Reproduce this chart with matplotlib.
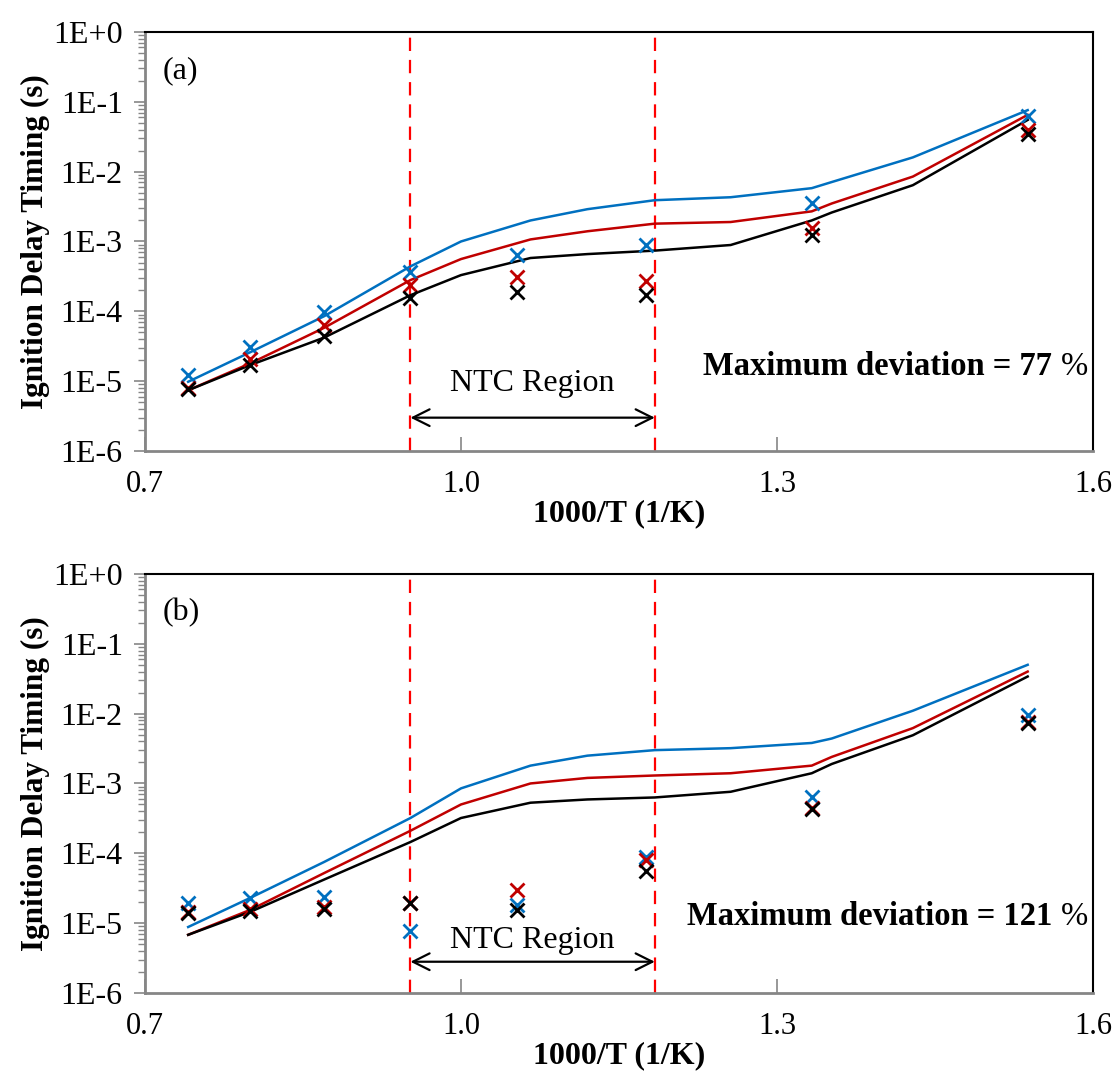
import numpy as np
import matplotlib.pyplot as plt
from matplotlib.ticker import FixedLocator, LogLocator, NullFormatter, FuncFormatter

plt.rcParams['font.family'] = ['Liberation Serif', 'DejaVu Serif']

# experiment points (1000/T)
x_exp = [0.741, 0.800, 0.870, 0.952, 1.053, 1.176, 1.333, 1.538]

# panel (a) measured values
a_blue_pts = [1.23e-5, 3.1e-5, 9.8e-5, 3.6e-4, 6.4e-4, 8.9e-4, 3.5e-3, 6.3e-2]
a_red_pts = [8.0e-6, 2.1e-5, 6.3e-5, 2.4e-4, 3.1e-4, 2.7e-4, 1.55e-3, 4.0e-2]
a_black_pts = [7.7e-6, 1.7e-5, 4.5e-5, 1.55e-4, 1.9e-4, 1.7e-4, 1.24e-3, 3.5e-2]

# panel (b) measured values
b_blue_pts = [1.95e-5, 2.3e-5, 2.4e-5, 7.7e-6, 1.8e-5, 8.9e-5, 6.3e-4, 9.5e-3]
b_red_pts = [1.45e-5, 1.6e-5, 1.7e-5, 1.95e-5, 3.0e-5, 8.0e-5, 4.5e-4, 7.6e-3]
b_black_pts = [1.4e-5, 1.5e-5, 1.6e-5, 1.95e-5, 1.55e-5, 5.6e-5, 4.3e-4, 7.4e-3]

# model curves
x_mod = [0.741, 0.800, 0.870, 0.952, 1.000, 1.066, 1.120, 1.184, 1.256, 1.333, 1.352, 1.429, 1.538]
a_blue_line = [9.8e-6, 2.6e-5, 8.5e-5, 4.4e-4, 1.0e-3, 2.0e-3, 2.9e-3, 3.9e-3, 4.3e-3, 5.8e-3, 7.1e-3, 1.6e-2, 7.6e-2]
a_red_line = [7.4e-6, 1.8e-5, 5.8e-5, 2.8e-4, 5.6e-4, 1.07e-3, 1.4e-3, 1.8e-3, 1.9e-3, 2.7e-3, 3.5e-3, 8.5e-3, 6.5e-2]
a_black_line = [7.4e-6, 1.7e-5, 4.2e-5, 1.7e-4, 3.3e-4, 5.8e-4, 6.6e-4, 7.4e-4, 8.9e-4, 2.0e-3, 2.6e-3, 6.4e-3, 5.5e-2]

b_blue_line = [8.8e-6, 2.3e-5, 7.5e-5, 3.2e-4, 8.5e-4, 1.8e-3, 2.5e-3, 3.0e-3, 3.2e-3, 3.8e-3, 4.4e-3, 1.1e-2, 5.0e-2]
b_red_line = [6.8e-6, 1.55e-5, 5.2e-5, 2.1e-4, 5.0e-4, 1.0e-3, 1.2e-3, 1.3e-3, 1.4e-3, 1.8e-3, 2.4e-3, 6.2e-3, 4.0e-2]
b_black_line = [6.8e-6, 1.45e-5, 4.2e-5, 1.45e-4, 3.2e-4, 5.3e-4, 5.9e-4, 6.3e-4, 7.6e-4, 1.4e-3, 1.9e-3, 4.9e-3, 3.4e-2]

ntc_bounds = [0.952, 1.184]
x_ticks = [0.7, 1.0, 1.3, 1.6]
y_ticks = [1e-6, 1e-5, 1e-4, 1e-3, 1e-2, 1e-1, 1e0]
y_labels = ['1E-6', '1E-5', '1E-4', '1E-3', '1E-2', '1E-1', '1E+0']

BLUE, RED, BLACK = '#0070C0', '#C00000', '#000000'


def draw_panel(ax, lines, pts, tag, dev, dev_y, ntc_y, txt_y):
    for ys, c in zip(lines, [BLUE, RED, BLACK]):
        ax.plot(x_mod, ys, color=c, lw=1.8, zorder=3)
    for ys, c in zip(pts, [BLUE, RED, BLACK]):
        ax.plot(x_exp, ys, 'x', color=c, ms=10, mew=2.0, zorder=4)
    for xv in ntc_bounds:
        ax.axvline(xv, color='#FF0000', lw=1.6, ls=(0, (6, 4)), zorder=2)
    ax.annotate('', xy=(ntc_bounds[0], ntc_y), xytext=(ntc_bounds[1], ntc_y),
                arrowprops=dict(arrowstyle='<->', color='black', lw=1.6,
                                mutation_scale=30, shrinkA=0, shrinkB=0))
    ax.text(sum(ntc_bounds) / 2, txt_y, 'NTC Region', ha='center', va='center', fontsize=23)
    ax.text(0.717, 0.28, tag, fontsize=23, va='center')
    pct = ax.text(1.595, dev_y, '%', ha='right', va='center', fontsize=23.5)
    ax.annotate('Maximum deviation = ' + dev + ' ', xy=(0, 0.5), xycoords=pct,
                ha='right', va='center', fontsize=23.5, fontweight='bold')

    ax.set_yscale('log')
    ax.set_xlim(0.7, 1.6)
    ax.set_ylim(1e-6, 1)
    ax.xaxis.set_major_locator(FixedLocator(x_ticks))
    ax.xaxis.set_major_formatter(FuncFormatter(lambda v, p: '%.1f' % v))
    ax.yaxis.set_major_locator(FixedLocator(y_ticks))
    ax.yaxis.set_major_formatter(FuncFormatter(lambda v, p: y_labels[int(round(np.log10(v))) + 6]))
    ax.yaxis.set_minor_locator(LogLocator(base=10, subs=np.arange(2, 10)))
    ax.yaxis.set_minor_formatter(NullFormatter())
    ax.tick_params(axis='x', direction='in', length=10, width=1.2, color='#868686',
                   labelsize=22, pad=14)
    ax.tick_params(axis='y', which='major', direction='out', length=8, width=1.2,
                   color='#868686', labelsize=23, pad=8)
    ax.tick_params(axis='y', which='minor', direction='out', length=5, width=1.0,
                   color='#868686')
    for s in ['left', 'bottom']:
        ax.spines[s].set_color('#868686')
        ax.spines[s].set_linewidth(2)
    for s in ['top', 'right']:
        ax.spines[s].set_color('black')
        ax.spines[s].set_linewidth(1.5)
    ax.set_xlabel('1000/T (1/K)', fontsize=23, fontweight='bold', labelpad=0)
    ax.set_ylabel('Ignition Delay Timing (s)', fontsize=22.5, fontweight='bold', labelpad=2)


fig = plt.figure(figsize=(11.17, 10.73), dpi=100)
ax1 = fig.add_axes([0.1298, 0.5797, 0.8487, 0.3905])
ax2 = fig.add_axes([0.1298, 0.0746, 0.8487, 0.3905])

draw_panel(ax1, [a_blue_line, a_red_line, a_black_line],
           [a_blue_pts, a_red_pts, a_black_pts], '(a)', '77', 1.6e-5, 3.0e-6, 9.4e-6)
draw_panel(ax2, [b_blue_line, b_red_line, b_black_line],
           [b_blue_pts, b_red_pts, b_black_pts], '(b)', '121', 1.23e-5, 2.8e-6, 5.7e-6)

fig.savefig('out.png', dpi=100)
